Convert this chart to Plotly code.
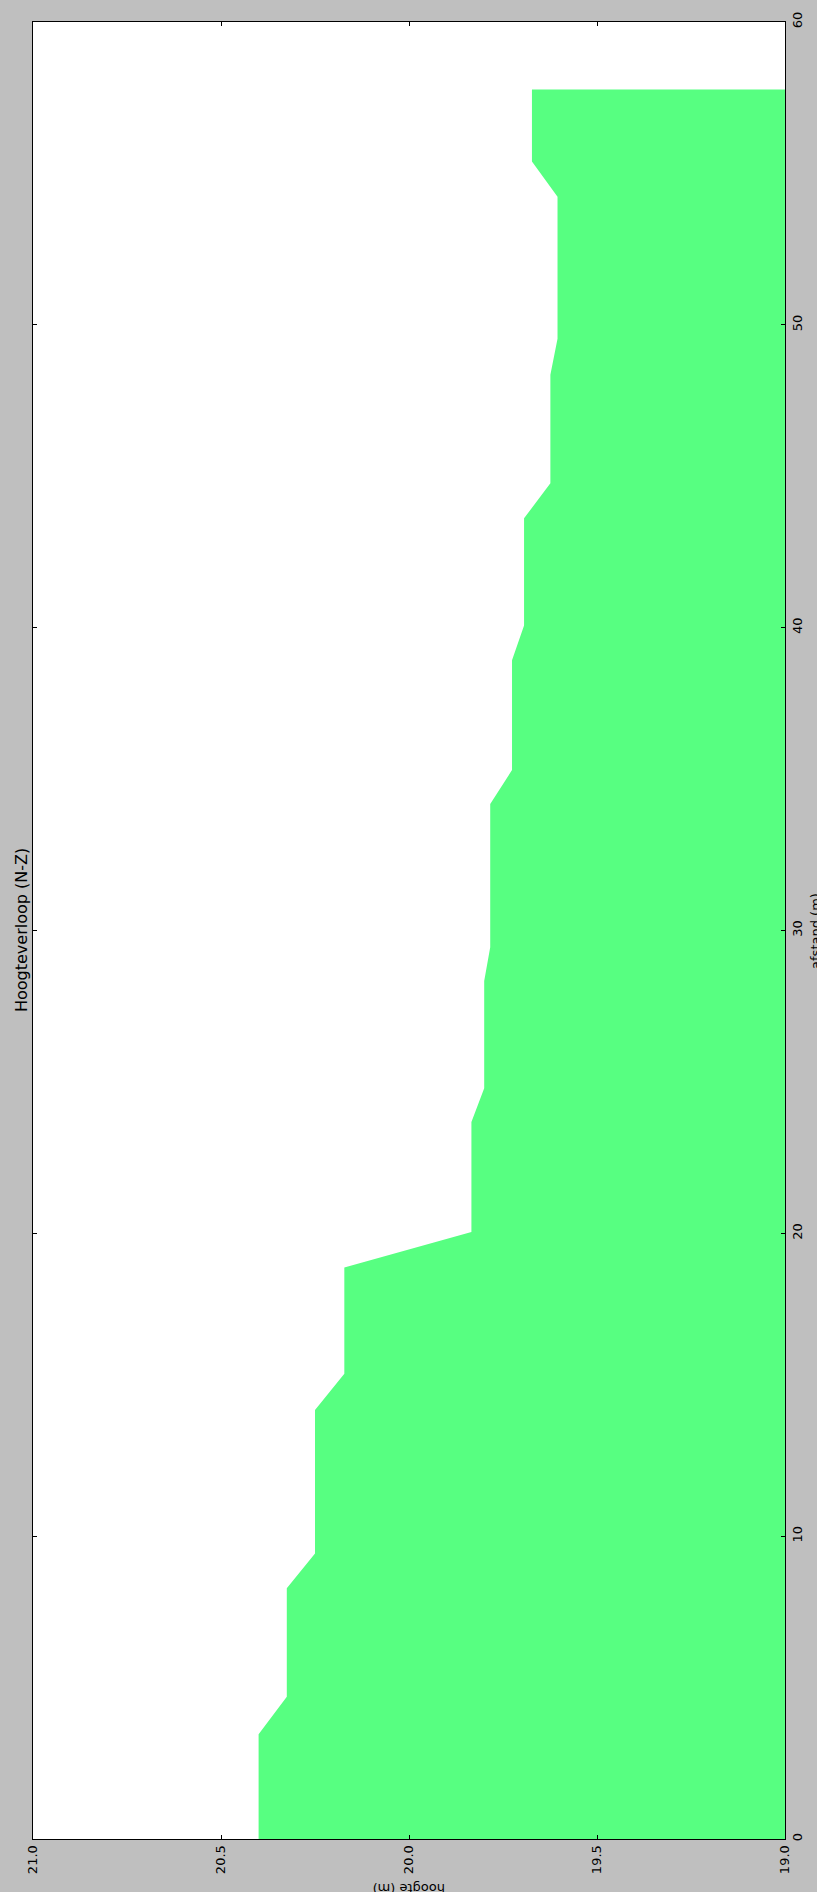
import plotly.graph_objects as go

# Profile data: afstand (m) along the section, hoogte (m) of the terrain
afstand = [0.0, 3.46, 4.70, 8.28, 9.43, 14.17, 15.36, 18.87, 20.04, 23.68, 24.79,
           28.33, 29.45, 34.18, 35.30, 38.92, 40.07, 43.61, 44.77, 48.35, 49.54,
           54.23, 55.39, 57.77]
hoogte = [20.40, 20.40, 20.325, 20.325, 20.25, 20.25, 20.172, 20.172, 19.834, 19.834,
          19.80, 19.80, 19.784, 19.784, 19.726, 19.726, 19.694, 19.694, 19.624, 19.624,
          19.605, 19.605, 19.673, 19.673]

hoogte_range = [21.0, 19.0]
afstand_range = [0, 60]
hoogte_ticks = [21.0, 20.5, 20.0, 19.5, 19.0]
afstand_ticks = [0, 10, 20, 30, 40, 50, 60]

title_text = "Hoogteverloop (N-Z)"
xlabel_text = "afstand (m)"
ylabel_text = "hoogte (m)"

GREEN = "#57ff81"
GRAY = "#bfbfbf"
FONT = "DejaVu Sans"

base = hoogte_range[1]
poly_x = hoogte + [base, base]
poly_y = afstand + [afstand[-1], afstand[0]]

fig = go.Figure()
fig.add_trace(go.Scatter(
    x=poly_x, y=poly_y, mode="lines", fill="toself",
    fillcolor=GREEN, line=dict(width=0, color=GREEN),
    hoverinfo="skip", showlegend=False,
))

W, H = 817, 1892
ml, mr, mt, mb = 33, 30, 19, 53
pw, ph = W - ml - mr, H - mt - mb

def px_x(p):
    return (p - ml) / pw

def px_y(p):
    return (H - mb - p) / ph

fig.update_layout(
    width=W, height=H,
    margin=dict(l=ml, r=mr, t=mt, b=mb, pad=0),
    paper_bgcolor=GRAY, plot_bgcolor="white",
    font=dict(family=FONT, size=13, color="black"),
    xaxis=dict(
        range=hoogte_range, tickvals=hoogte_ticks, tickformat=".1f",
        tickangle=-90, ticks="inside", ticklen=4, tickcolor="black",
        showline=True, linecolor="black", linewidth=1, mirror="ticks",
        showgrid=False, zeroline=False,
        tickfont=dict(family=FONT, size=13, color="black"),
    ),
    yaxis=dict(
        range=afstand_range, tickvals=afstand_ticks, side="right",
        tickangle=-90, ticks="inside", ticklen=4, tickcolor="black",
        showline=True, linecolor="black", linewidth=1, mirror="ticks",
        showgrid=False, zeroline=False,
        tickfont=dict(family=FONT, size=13, color="black"),
    ),
    annotations=[
        dict(text=title_text, textangle=-90, xref="paper", yref="paper",
             x=px_x(21.5), y=0.5, xanchor="center", yanchor="middle",
             showarrow=False, font=dict(family=FONT, size=16, color="black")),
        dict(text=xlabel_text, textangle=-90, xref="paper", yref="paper",
             x=px_x(817.5), y=0.5, xanchor="center", yanchor="middle",
             showarrow=False, font=dict(family=FONT, size=13, color="black")),
        dict(text=ylabel_text, textangle=180, xref="paper", yref="paper",
             x=0.5, y=px_y(1888), xanchor="center", yanchor="middle",
             showarrow=False, font=dict(family=FONT, size=13, color="black")),
    ],
)

fig.write_html("out.html")
